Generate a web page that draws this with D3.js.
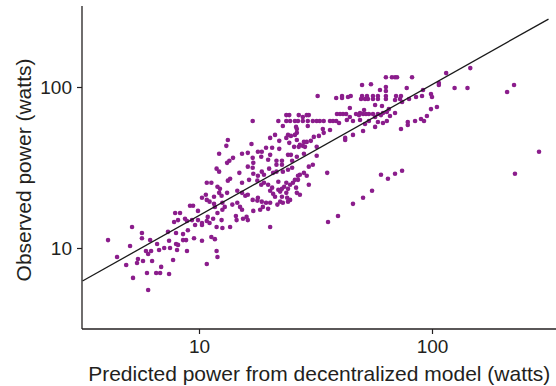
<!DOCTYPE html>
<html><head><meta charset="utf-8">
<script src="https://cdn.jsdelivr.net/npm/d3@7"></script>
<style>html,body{margin:0;padding:0;background:#fff;} svg{display:block;font-family:"Liberation Sans",Arial,Helvetica,sans-serif;}</style>
</head><body><svg id="chart" width="556" height="386"></svg>
<script>
// [predicted (W), observed (W)]
const lowCluster = [[4.07,11.2],[4.45,8.8],[4.87,7.85],[5.06,10.3],[5.21,6.52],[5.16,13.5],[5.69,12.4],[5.69,11.5],[5.47,8.55],[5.42,8.07],[5.75,8.3],[5.92,9.58],[6.05,9.18],[6.23,9.58],[6.17,11.2],[6.29,8.3],[5.98,7.0],[6.05,5.49],[6.55,7.0],[6.81,7.0],[6.88,7.63],[7.44,6.9],[6.61,10.6],[7.09,10.0],[7.44,11.1],[7.51,10.0],[7.97,10.6],[8.13,10.45],[8.05,9.72],[7.36,12.6],[7.97,12.4],[8.54,12.2],[8.96,12.9],[8.54,11.2],[8.8,11.2],[9.52,11.5],[8.88,9.58],[7.74,8.42],[6.74,9.72],[7.82,14.5],[8.13,14.9],[8.71,15.2],[8.88,14.7],[9.33,14.9],[7.9,16.5],[8.29,16.5],[9.15,18.3],[9.43,18.3],[9.9,17.0],[9.62,13.9],[9.9,14.9],[10.3,14.3],[10.3,13.9],[10.3,11.1],[10.8,7.96],[11.3,11.7],[11.7,11.35],[11.9,9.58],[12.0,8.8],[11.9,13.5],[12.0,16.5],[10.9,15.6],[11.5,15.2],[10.8,14.7],[11.1,14.3],[10.8,25.4],[11.3,25.4],[12.0,24.0],[12.3,23.3]];
const midCluster = [[10.7,21.4],[10.3,20.5],[11.6,20.8],[12.2,22.0],[12.5,21.1],[10.8,19.9],[11.1,19.4],[11.6,18.8],[11.7,18.0],[12.6,19.1],[12.6,17.3],[12.9,18.0],[13.9,18.6],[14.6,19.1],[15.0,18.0],[15.3,17.3],[14.4,15.8],[14.5,14.9],[15.45,15.2],[16.0,15.6],[16.2,14.9],[12.6,13.3],[13.6,13.5],[12.5,14.9],[20.2,13.5],[13.2,22.0],[14.6,22.7],[15.3,22.0],[15.8,21.1],[16.2,21.4],[17.9,20.5],[17.0,19.9],[17.8,19.7],[18.6,19.4],[19.4,19.1],[20.2,19.1],[18.8,18.0],[19.8,17.5],[18.3,17.3],[17.1,17.0],[21.2,20.8],[23.9,20.5],[22.3,19.4],[21.7,18.6],[24.6,19.9],[27.1,21.4],[13.3,26.2],[13.6,26.9],[15.3,25.4],[16.4,26.5],[17.8,26.2],[19.0,25.4],[18.5,24.7],[19.8,24.7],[20.6,23.7],[20.2,22.7],[20.8,21.7],[11.9,31.1],[12.2,29.8],[14.9,29.3],[16.2,32.0],[17.1,28.9],[17.9,28.1],[18.6,29.8],[19.0,28.5],[20.0,31.1],[20.8,29.3],[13.2,33.8],[13.5,34.8],[17.0,36.3],[17.1,33.8],[17.0,31.5],[14.0,36.3],[15.3,38.5],[16.2,39.0],[12.2,38.5],[17.9,39.6],[18.6,39.6],[18.5,36.9],[19.4,41.9],[20.6,41.9],[20.2,37.9],[19.8,35.3],[13.3,46.9],[13.1,43.1],[16.8,44.3],[20.2,48.3],[21.2,50.4],[17.0,61.5]];
const centerCluster = [[23.7,66.9],[24.4,66.9],[26.8,66.9],[27.9,65.1],[29.0,66.9],[29.6,66.9],[21.9,61.5],[23.7,61.5],[24.6,61.5],[25.8,61.5],[26.6,61.5],[27.9,61.5],[29.3,61.5],[30.8,61.5],[32.0,61.5],[33.0,61.5],[34.3,61.5],[36.5,61.5],[37.6,61.5],[38.8,61.5],[39.9,59.8],[22.9,57.3],[26.1,56.5],[29.3,57.3],[34.0,54.9],[36.5,54.1],[34.3,51.9],[31.1,49.0],[32.7,49.7],[26.3,54.9],[26.3,51.9],[25.8,50.4],[24.8,49.7],[24.1,50.4],[23.7,48.3],[24.4,45.0],[22.1,46.3],[26.3,46.9],[27.1,43.7],[28.2,45.6],[29.0,45.6],[30.2,46.3],[27.9,43.1],[28.5,42.5],[26.8,42.5],[25.6,42.5],[22.1,41.3],[32.0,42.5],[24.1,37.9],[24.8,37.9],[28.2,38.5],[32.0,37.4],[26.3,36.9],[25.1,34.8],[22.7,34.8],[29.6,32.0],[21.5,34.8],[21.5,32.9],[22.7,32.9],[21.5,29.8],[22.9,29.8],[24.1,30.6],[25.1,31.5],[26.6,28.1],[27.1,28.5],[28.2,29.3],[29.0,28.1],[29.6,24.7],[30.8,32.9],[35.5,29.3],[25.8,26.5],[26.6,26.5],[25.3,25.4],[24.6,24.7],[23.7,25.4],[23.2,24.0],[22.7,23.3],[24.1,23.3],[23.7,22.0],[26.1,23.7],[26.3,22.0],[22.7,20.8],[22.9,19.1],[24.1,19.4],[21.9,25.8],[21.9,23.0],[22.3,22.4],[35.8,14.5],[39.5,15.8],[45.8,18.8],[50.6,20.5],[55.3,22.7],[60.4,28.5],[64.7,26.9],[69.4,28.9],[74.4,30.2]];
const highCluster = [[63.4,115],[67.3,115],[69.4,115],[70.8,115],[82.1,115],[50.1,103],[54.7,104],[59.8,95.8],[63.4,100],[63.4,94.5],[77.9,98.6],[91.5,95.8],[32.3,88.0],[38.8,85.5],[41.1,88.0],[41.1,85.5],[43.6,86.7],[44.8,88.0],[49.6,84.2],[51.6,84.2],[53.1,84.2],[55.8,84.2],[58.6,84.2],[63.4,84.2],[69.4,83.0],[50.1,88.0],[52.6,88.0],[55.8,88.0],[58.6,88.0],[63.4,88.0],[70.1,88.0],[73.6,88.0],[72.9,84.2],[74.4,80.7],[79.7,84.2],[85.4,86.7],[90.6,88.0],[99.0,90.5],[100,86.7],[57.0,77.3],[61.0,76.2],[44.4,74.0],[51.1,71.9],[65.3,72.9],[64.0,69.9],[69.4,68.9],[66.0,66.0],[99.0,72.9],[105,75.1],[89.7,63.3],[92.4,61.5],[95.1,66.0],[84.6,61.5],[78.7,60.6],[78.7,58.1],[73.6,54.9],[39.1,67.9],[40.3,67.9],[41.5,67.9],[42.8,67.9],[44.4,65.1],[47.2,67.9],[49.1,68.9],[48.6,66.9],[50.6,67.9],[52.1,67.9],[53.6,67.9],[55.8,67.9],[58.6,67.9],[61.6,68.9],[43.1,62.4],[45.8,61.5],[49.1,62.4],[51.6,58.9],[53.6,61.5],[57.0,65.1],[58.6,60.6],[61.6,59.8],[64.0,61.5],[60.4,66.9],[57.0,56.5],[50.6,53.3],[42.4,48.3],[42.4,46.9],[45.8,50.4]];
const outliers = [[115,122],[146,131],[107,106],[107,103],[125,98.6],[142,98.6],[210,93.1],[225,103],[288,39.6],[227,28.9]];

const xTicks = [10, 100];
const yTicks = [10, 100];
const xDomain = [3.1623, 316.23];
const yDomain = [3.1623, 316.23];
const fitIntercept = 0.388;   // log10 intercept of fitted line
const fitSlope = 0.8135;      // log-log slope
const xTitle = "Predicted power from decentralized model (watts)";
const yTitle = "Observed power (watts)";

const points = [].concat(lowCluster, midCluster, centerCluster, highCluster, outliers);

const W = 556, H = 386;
const mLeft = 82.5, mRight = 548.5, mTop = 6.5, mBottom = 328.5;
const ink = "#231f20";
const svg = d3.select("#chart");

const x = d3.scaleLog().domain(xDomain).range([mLeft, mRight]);
const y = d3.scaleLog().domain(yDomain).range([mBottom, mTop]);

// points
svg.append("g").selectAll("circle").data(points).join("circle")
  .attr("cx", d => x(d[0])).attr("cy", d => y(d[1])).attr("r", 2.3)
  .attr("fill", "#8b1d8c");

// fitted line
const fitLine = xDomain.map(v => [v, Math.pow(10, fitIntercept + fitSlope * Math.log10(v))]);
svg.append("path").datum(fitLine)
  .attr("d", d3.line().x(d => x(d[0])).y(d => y(d[1])))
  .attr("fill", "none").attr("stroke", "#1a1a1a").attr("stroke-width", 1.3);

// axes
const gx = svg.append("g").attr("transform", `translate(0,${mBottom + 0.5})`)
  .call(d3.axisBottom(x).tickValues(xTicks).tickFormat(d3.format("d")).tickSize(5).tickPadding(6));
gx.select(".domain").remove();
gx.append("line").attr("x1", mLeft - 0.5).attr("x2", W).attr("y1", 0).attr("y2", 0)
  .attr("stroke", ink).attr("stroke-width", 1.3);

const gy = svg.append("g").attr("transform", `translate(${mLeft - 0.5},0)`)
  .call(d3.axisLeft(y).tickValues(yTicks).tickFormat(d3.format("d")).tickSize(5).tickPadding(5));
gy.select(".domain").remove();
gy.append("line").attr("x1", 0).attr("x2", 0).attr("y1", mTop - 0.5).attr("y2", mBottom + 0.5)
  .attr("stroke", ink).attr("stroke-width", 1.3);

[gx, gy].forEach(g => {
  g.selectAll(".tick line").attr("stroke", ink).attr("stroke-width", 1.2);
  g.selectAll(".tick text").attr("fill", ink).style("font-size", "19px")
    .style("font-family", '"Liberation Sans", Arial, sans-serif');
});

svg.append("text").attr("x", (mLeft + W) / 2).attr("y", 381)
  .attr("text-anchor", "middle").attr("fill", ink).style("font-size", "21px").text(xTitle);
svg.append("text").attr("transform", `translate(31,170) rotate(-90)`)
  .attr("text-anchor", "middle").attr("fill", ink).style("font-size", "21px").text(yTitle);
</script></body></html>
